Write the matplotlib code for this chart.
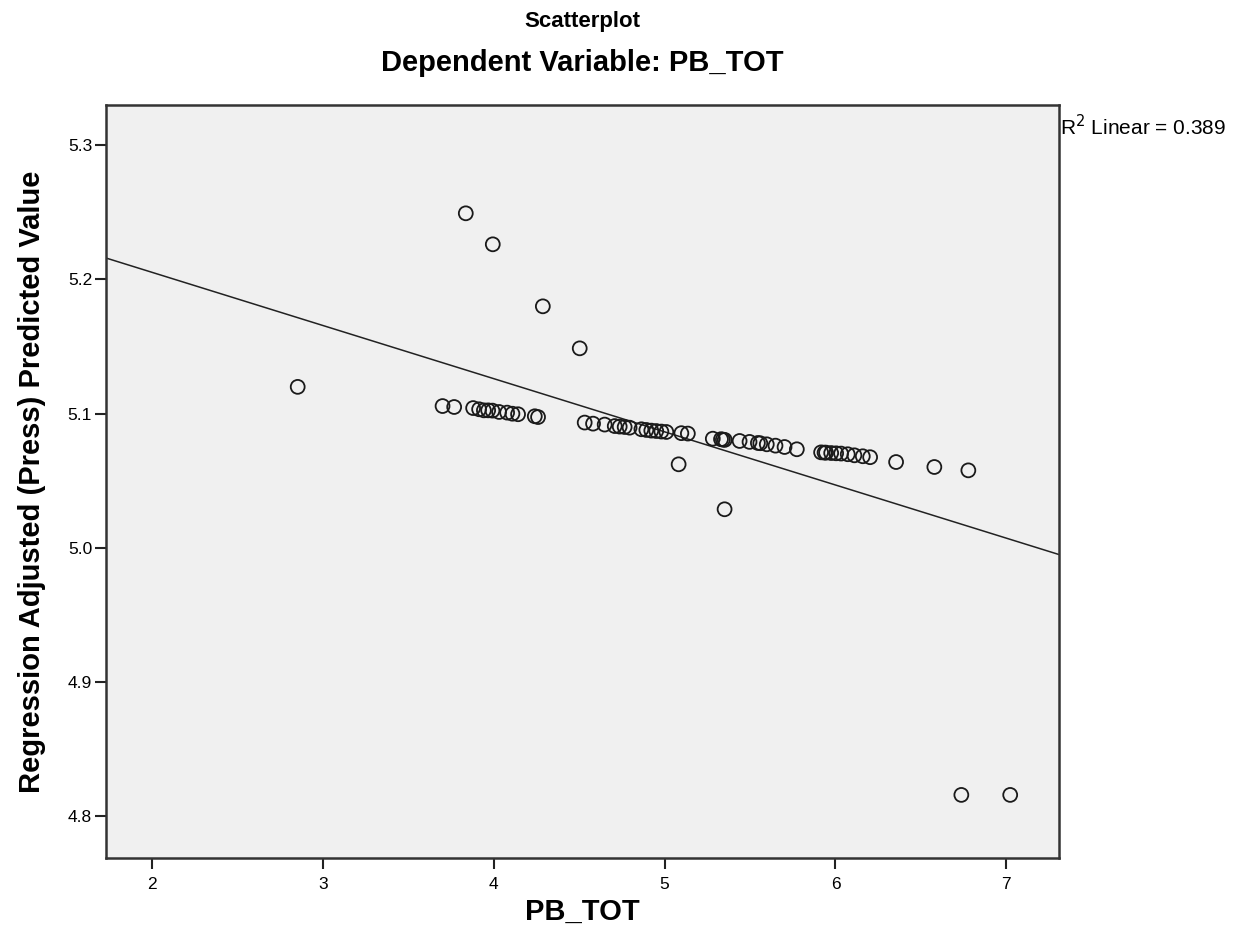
import matplotlib
matplotlib.use("Agg")
import matplotlib.pyplot as plt
import numpy as np

plt.rcParams['font.family'] = ['Liberation Sans', 'DejaVu Sans']

pb_tot = [2.852, 3.836, 3.994, 4.287, 4.503,
          3.700, 3.768, 3.879, 3.914, 3.942, 3.967, 3.992, 4.031, 4.078, 4.109, 4.142, 4.240, 4.259,
          4.532, 4.581, 4.649, 4.708, 4.737, 4.766, 4.795, 4.864, 4.893, 4.922, 4.951, 4.981, 5.010,
          5.098, 5.136,
          5.282, 5.330, 5.341, 5.352, 5.439, 5.497, 5.546, 5.560, 5.598, 5.649, 5.702, 5.774,
          5.916, 5.936, 5.945, 5.975, 6.004, 6.033, 6.072, 6.111, 6.160, 6.203, 6.355, 6.579, 6.778,
          5.082, 5.351, 6.737, 7.023]
pred_value = [5.120, 5.2493, 5.2262, 5.180, 5.1487,
              5.1057, 5.105, 5.1042, 5.1033, 5.1025, 5.1025, 5.1023, 5.1013, 5.1008, 5.100, 5.0996, 5.0981, 5.0975,
              5.0934, 5.0926, 5.0919, 5.0908, 5.0904, 5.0901, 5.0896, 5.0884, 5.0879, 5.0874, 5.0871, 5.0867, 5.0864,
              5.0855, 5.0852,
              5.0814, 5.0810, 5.0807, 5.0805, 5.0797, 5.079, 5.0782, 5.0780, 5.0772, 5.0762, 5.0752, 5.0735,
              5.0712, 5.071, 5.0710, 5.0707, 5.0705, 5.0703, 5.0698, 5.069, 5.0683, 5.0676, 5.064, 5.0603, 5.0578,
              5.0623, 5.0288, 4.816, 4.816]

fit_intercept = 5.2845
fit_slope = -0.0396
r2_text = "R$^2$ Linear = 0.389"

x_ticks = [2, 3, 4, 5, 6, 7]
y_ticks = [4.8, 4.9, 5.0, 5.1, 5.2, 5.3]
xlim = (1.73, 7.31)
ylim = (4.769, 5.33)

fig = plt.figure(figsize=(12.46, 9.51), dpi=100)
ax = fig.add_axes([0.0851, 0.0978, 0.7650, 0.7918])
ax.set_facecolor('#f0f0f0')

xl = np.array(xlim)
ax.plot(xl, fit_intercept + fit_slope * xl, color='#222222', linewidth=1.1, zorder=2)
ax.scatter(pb_tot, pred_value, s=100, facecolors='none', edgecolors='#1a1a1a', linewidths=1.3, zorder=3)

ax.set_xlim(*xlim)
ax.set_ylim(*ylim)
ax.set_xticks(x_ticks)
ax.set_xticklabels([str(t) for t in x_ticks])
ax.set_yticks(y_ticks)
ax.set_yticklabels([f"{t:.1f}" for t in y_ticks])
ax.tick_params(axis='both', direction='out', length=8, width=1.5, colors='#222222', labelsize=12.5, labelcolor='black')
ax.tick_params(axis='x', pad=6)
ax.tick_params(axis='y', pad=2)
for sp in ax.spines.values():
    sp.set_color('#333333')
    sp.set_linewidth(1.8)

ax.set_xlabel('PB_TOT', fontsize=21, fontweight='bold', labelpad=4)
ax.set_ylabel('Regression Adjusted (Press) Predicted Value', fontsize=21, fontweight='bold', labelpad=16)

cx = (0.0851 + 0.0851 + 0.7650) / 2
fig.text(cx, 1 - 22/951, 'Scatterplot', ha='center', va='center', fontsize=16, fontweight='bold')
fig.text(cx, 1 - 63/951, 'Dependent Variable: PB_TOT', ha='center', va='center', fontsize=21, fontweight='bold')
fig.text(1060/1246, 1 - 127/951, r2_text, ha='left', va='center', fontsize=15)

fig.savefig('out.png', dpi=100)
